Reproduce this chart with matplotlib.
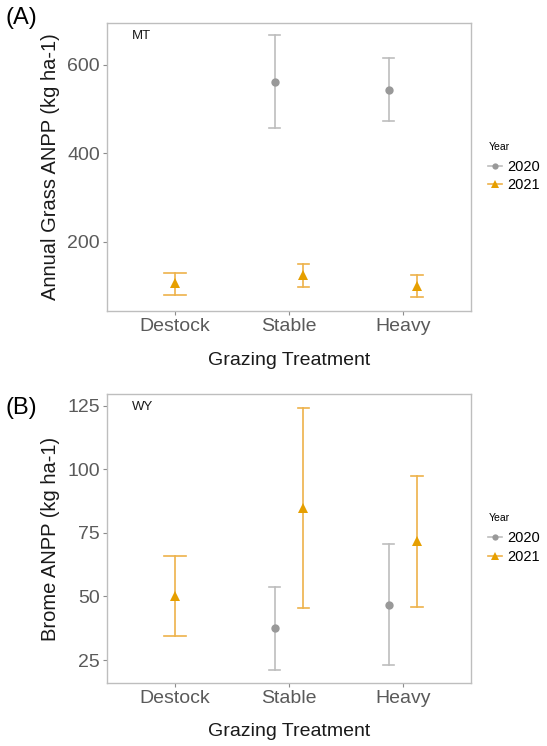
import matplotlib.pyplot as plt
from matplotlib.lines import Line2D
import numpy as np

plt.rcParams["font.family"] = ["Liberation Sans", "DejaVu Sans"]

treatments = ["Destock", "Stable", "Heavy"]
years = ["2020", "2021"]

# MT - annual grass ANPP (mean, lower, upper); NaN = not sampled
mt_mean_2020 = [np.nan, 562, 543]
mt_low_2020 = [np.nan, 458, 472]
mt_high_2020 = [np.nan, 668, 616]
mt_mean_2021 = [107, 124, 100]
mt_low_2021 = [79, 97, 74]
mt_high_2021 = [128, 149, 124]

# WY - brome ANPP
wy_mean_2020 = [np.nan, 37.5, 46.7]
wy_low_2020 = [np.nan, 21.1, 23.1]
wy_high_2020 = [np.nan, 53.9, 70.6]
wy_mean_2021 = [50.2, 84.9, 71.9]
wy_low_2021 = [34.5, 45.4, 46.0]
wy_high_2021 = [65.9, 124.2, 97.5]

pt_colors = {"2020": "#999999", "2021": "#E69F00"}
bar_colors = {"2020": "#BDBDBD", "2021": "#EDB24A"}
markers = {"2020": "o", "2021": "^"}
msizes = {"2020": 6, "2021": 7}

fig = plt.figure(figsize=(5.47, 7.46), dpi=100)
ax_a = fig.add_axes([0.1956, 0.5831, 0.6654, 0.3861])
ax_b = fig.add_axes([0.1956, 0.0849, 0.6654, 0.3866])


def draw_panel(ax, series, ylim, yticks, ylabel, site):
    x = np.arange(1, len(treatments) + 1)
    for i in range(len(treatments)):
        present = [y for y in years if not np.isnan(series[y][0][i])]
        n = len(present)
        for j, y in enumerate(present):
            off = 0 if n == 1 else (-0.125 if j == 0 else 0.125)
            cap = 0.095 if n == 1 else 0.05
            mean, lo, hi = series[y][0][i], series[y][1][i], series[y][2][i]
            xi = x[i] + off
            ax.plot([xi, xi], [lo, hi], color=bar_colors[y], lw=1.2, zorder=2)
            ax.plot([xi - cap, xi + cap], [lo, lo], color=bar_colors[y], lw=1.2, zorder=2)
            ax.plot([xi - cap, xi + cap], [hi, hi], color=bar_colors[y], lw=1.2, zorder=2)
            ax.plot(xi, mean, marker=markers[y], color=pt_colors[y],
                    markersize=msizes[y], markeredgewidth=0, zorder=3)
    ax.set_xlim(0.4, 3.6)
    ax.set_ylim(*ylim)
    ax.set_xticks(x)
    ax.set_xticklabels(treatments)
    ax.set_yticks(yticks)
    for s in ax.spines.values():
        s.set_color("#BEBEBE")
        s.set_linewidth(1.0)
    ax.tick_params(axis="both", length=3, width=0.8, color="#8C8C8C",
                   labelsize=14, labelcolor="#5A5A5A", pad=2)
    ax.set_ylabel(ylabel, fontsize=14.5, color="#1A1A1A", labelpad=5)
    ax.set_xlabel("Grazing Treatment", fontsize=14, color="#1A1A1A", labelpad=12)
    ax.text(0.068, 0.955, site, transform=ax.transAxes, fontsize=9.5,
            color="#1A1A1A", va="center", ha="left")
    handles = [Line2D([], [], color=bar_colors[y], lw=1.2, marker=markers[y],
                      markerfacecolor=pt_colors[y], markeredgewidth=0,
                      markersize=msizes[y] - 1.5) for y in years]
    leg = ax.legend(handles, years, title="Year", loc="center left",
                    bbox_to_anchor=(1.02, 0.5), frameon=False, fontsize=10.5,
                    title_fontsize=7.5, handlelength=0.9, handletextpad=0.4,
                    labelspacing=0.3, borderaxespad=0.3)
    leg._legend_box.align = "left"
    leg._legend_box.sep = 6


draw_panel(ax_a,
           {"2020": (mt_mean_2020, mt_low_2020, mt_high_2020),
            "2021": (mt_mean_2021, mt_low_2021, mt_high_2021)},
           (43, 695), [200, 400, 600], "Annual Grass ANPP (kg ha-1)", "MT")
draw_panel(ax_b,
           {"2020": (wy_mean_2020, wy_low_2020, wy_high_2020),
            "2021": (wy_mean_2021, wy_low_2021, wy_high_2021)},
           (16.1, 129.5), [25, 50, 75, 100, 125], "Brome ANPP (kg ha-1)", "WY")

fig.text(0.010, 0.990, "(A)", fontsize=17, va="top", ha="left")
fig.text(0.010, 0.468, "(B)", fontsize=17, va="top", ha="left")

fig.savefig("out.png", dpi=100)
